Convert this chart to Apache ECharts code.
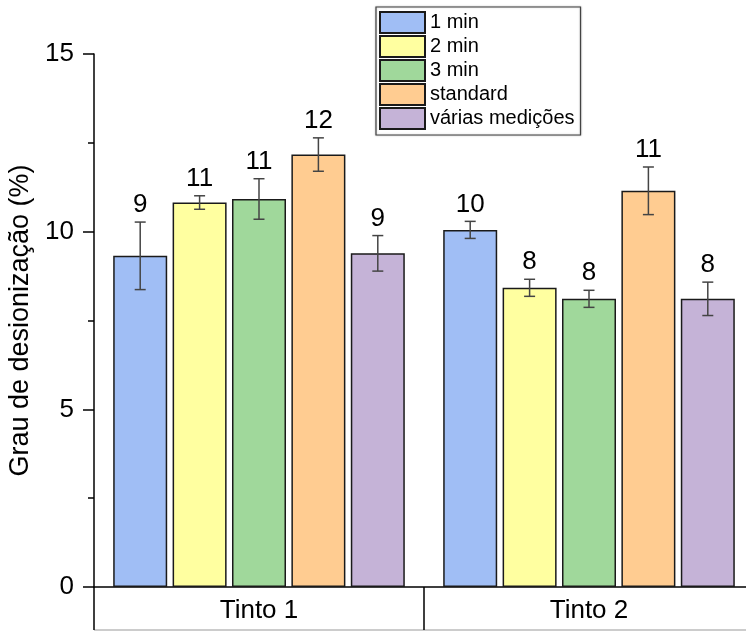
<!DOCTYPE html>
<html>
<head>
<meta charset="utf-8">
<script src="https://cdn.jsdelivr.net/npm/echarts@6/dist/echarts.min.js"></script>
<style>
html,body{margin:0;padding:0;background:#fff;}
#chart{width:746px;height:631px;}
</style>
</head>
<body>
<div id="chart"></div>
<script>
const categories = ['Tinto 1', 'Tinto 2'];
const seriesNames = ['1 min', '2 min', '3 min', 'standard', 'várias medições'];
const vals1min = [9.32, 10.05];
const vals2min = [10.82, 8.42];
const vals3min = [10.92, 8.11];
const valsStandard = [12.17, 11.15];
const valsVarias = [9.39, 8.11];
const err1min = [0.95, 0.24];
const err2min = [0.19, 0.24];
const err3min = [0.57, 0.24];
const errStandard = [0.47, 0.67];
const errVarias = [0.50, 0.47];
const yTicks = [0, 5, 10, 15];

const colors = ['#a0bef5', '#ffffa0', '#a0d89b', '#ffcc91', '#c5b3d7'];
const allVals = [vals1min, vals2min, vals3min, valsStandard, valsVarias];
const allErrs = [err1min, err2min, err3min, errStandard, errVarias];
const FONT = '"Liberation Sans", Arial, sans-serif';
const BAR_W = 54, BAR_GAP = 0.1;

const series = [];
seriesNames.forEach((name, i) => {
  series.push({
    name: name, type: 'bar', data: allVals[i],
    barWidth: BAR_W, barGap: (BAR_GAP * 100) + '%',
    itemStyle: {color: colors[i], borderColor: '#1a1a1a', borderWidth: 1.5},
    z: 2
  });
});
seriesNames.forEach((name, i) => {
  series.push({
    name: 'err_' + name, type: 'custom',
    data: categories.map((c, ci) => [ci, allVals[i][ci], allErrs[i][ci]]),
    encode: {x: 0, y: 1},
    z: 5,
    renderItem: function (params, api) {
      const ci = api.value(0), v = api.value(1), e = api.value(2);
      const c = api.coord([ci, v]);
      const x = c[0] + (i - 2) * BAR_W * (1 + BAR_GAP);
      const yt = api.coord([ci, v + e])[1];
      const yb = api.coord([ci, v - e])[1];
      const cw = 5.5;
      const st = {stroke: '#444', lineWidth: 1.5};
      return {
        type: 'group',
        children: [
          {type: 'line', shape: {x1: x, y1: yt, x2: x, y2: yb}, style: st},
          {type: 'line', shape: {x1: x - cw, y1: yt, x2: x + cw, y2: yt}, style: st},
          {type: 'line', shape: {x1: x - cw, y1: yb, x2: x + cw, y2: yb}, style: st},
          {type: 'text', style: {x: x, y: yt - 4, text: String(Math.round(v)),
            fill: '#000', font: '26px ' + FONT, textAlign: 'center', textVerticalAlign: 'bottom'}}
        ]
      };
    }
  });
});

const chart = echarts.init(document.getElementById('chart'));
chart.setOption({
  animation: false,
  backgroundColor: '#fff',
  textStyle: {fontFamily: FONT},
  grid: {left: 94, right: -8, top: 54, bottom: 44, containLabel: false, outerBoundsMode: 'none'},
  legend: {
    data: seriesNames,
    orient: 'vertical',
    left: 376, top: 7,
    padding: [4, 6, 5, 3],
    itemWidth: 45, itemHeight: 21, itemGap: 1,
    borderColor: '#444', borderWidth: 1.2,
    shadowColor: 'rgba(0,0,0,0.25)', shadowBlur: 2,
    backgroundColor: '#fff',
    textStyle: {fontSize: 20, color: '#000', fontFamily: FONT, lineHeight: 20},
    icon: 'rect'
  },
  xAxis: {
    type: 'category', data: categories,
    axisLine: {lineStyle: {color: '#000', width: 1.5}},
    axisTick: {show: true, length: 43, lineStyle: {color: '#000', width: 1.5}},
    axisLabel: {fontSize: 26, color: '#000', margin: 11, fontFamily: FONT},
    splitLine: {show: false}
  },
  yAxis: {
    type: 'value', min: yTicks[0], max: yTicks[yTicks.length - 1], interval: 5,
    name: 'Grau de desionização (%)', nameLocation: 'middle', nameGap: 41,
    nameTextStyle: {fontSize: 27, color: '#000', fontFamily: FONT},
    axisLine: {show: true, lineStyle: {color: '#000', width: 1.5}},
    axisTick: {show: true, length: 11, lineStyle: {color: '#000', width: 1.5}},
    minorTick: {show: true, splitNumber: 2, length: 6, lineStyle: {color: '#000', width: 1.5}},
    axisLabel: {fontSize: 26, color: '#000', margin: 20, fontFamily: FONT},
    splitLine: {show: false}
  },
  graphic: [{
    type: 'line', shape: {x1: 94, y1: 630, x2: 746, y2: 630},
    style: {stroke: '#bbb', lineWidth: 1.5}, silent: true
  }],
  series: series
});
</script>
</body>
</html>
